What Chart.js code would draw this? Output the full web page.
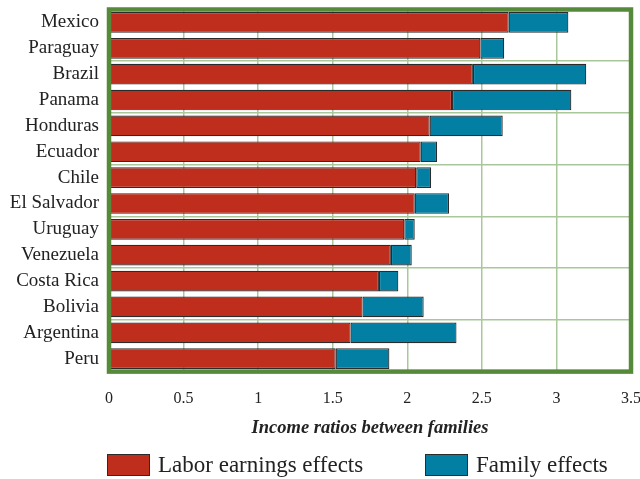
<!DOCTYPE html>
<html>
<head>
<meta charset="utf-8">
<script src="https://cdn.jsdelivr.net/npm/chart.js@4/dist/chart.umd.min.js"></script>
<style>
  html, body { margin: 0; padding: 0; background: #fff; }
  #wrap { position: relative; width: 640px; height: 479px; }
  #incomeChart { display: block; }
  #legend { position: absolute; left: 0; top: 454px; width: 640px; height: 24px;
            font-family: 'Liberation Serif', serif; font-size: 23px; color: #222; }
  .lg-item { position: absolute; top: 0; display: flex; align-items: center; height: 22px; }
  .lg-box { width: 41px; height: 20px; border: 1px solid #2b2b2b; margin-right: 8px; }
</style>
</head>
<body>
<div id="wrap">
  <canvas id="incomeChart" width="640" height="479"></canvas>
  <div id="legend"></div>
</div>
<script>
  const countries = ['Mexico', 'Paraguay', 'Brazil', 'Panama', 'Honduras', 'Ecuador', 'Chile',
    'El Salvador', 'Uruguay', 'Venezuela', 'Costa Rica', 'Bolivia', 'Argentina', 'Peru'];
  const laborEffects = [2.68, 2.49, 2.44, 2.30, 2.15, 2.09, 2.06, 2.05, 1.98, 1.89, 1.81, 1.70, 1.62, 1.52];
  const familyEffects = [0.40, 0.16, 0.76, 0.80, 0.49, 0.11, 0.10, 0.23, 0.07, 0.14, 0.13, 0.41, 0.71, 0.36];
  const xTicks = [0, 0.5, 1, 1.5, 2, 2.5, 3, 3.5];

  const FONT = 'Liberation Serif';
  const FRAME = '#548a3a';
  const GRID = '#a9c79a';

  // green box around the plot area
  const frame = {
    id: 'frame',
    afterDatasetsDraw(chart) {
      const { ctx, chartArea: a } = chart;
      ctx.save();
      ctx.strokeStyle = FRAME;
      ctx.lineWidth = 4.5;
      ctx.strokeRect(a.left, a.top, a.right - a.left, a.bottom - a.top);
      ctx.restore();
    }
  };

  // legend built from the datasets, placed under the axis title
  const htmlLegend = {
    id: 'htmlLegend',
    afterUpdate(chart) {
      const box = document.getElementById('legend');
      const lefts = [107, 425];
      box.innerHTML = chart.data.datasets.map((ds, i) => `
        <div class="lg-item" style="left:${lefts[i]}px">
          <span class="lg-box" style="background:${ds.backgroundColor}"></span>
          <span>${ds.label}</span>
        </div>`).join('');
    }
  };

  new Chart(document.getElementById('incomeChart'), {
    type: 'bar',
    data: {
      labels: countries,
      datasets: [{
        label: 'Labor earnings effects',
        data: laborEffects,
        backgroundColor: '#bf2d1c',
        borderColor: '#2b2b2b',
        borderWidth: 1.2,
        borderSkipped: false,
        barPercentage: 0.8,
        categoryPercentage: 1
      }, {
        label: 'Family effects',
        data: familyEffects,
        backgroundColor: '#027fa3',
        borderColor: '#2b2b2b',
        borderWidth: 1.2,
        borderSkipped: false,
        barPercentage: 0.8,
        categoryPercentage: 1
      }]
    },
    options: {
      indexAxis: 'y',
      responsive: false,
      animation: false,
      layout: { padding: { top: 9.5, right: 9, left: 0, bottom: 39.6 } },
      plugins: { legend: { display: false }, tooltip: { enabled: false } },
      scales: {
        x: {
          stacked: true,
          min: 0,
          max: 3.5,
          afterBuildTicks: (scale) => { scale.ticks = xTicks.map(v => ({ value: v })); },
          // let the end labels hang past the frame
          afterFit: (scale) => { scale.paddingLeft = 0; scale.paddingRight = 0; },
          ticks: {
            padding: 19,
            color: '#222',
            font: { family: FONT, size: 16, lineHeight: 1 },
            callback: (v) => String(v)
          },
          grid: { color: GRID, lineWidth: 1.5, drawTicks: false },
          border: { display: false },
          title: {
            display: true,
            text: 'Income ratios between families',
            color: '#222',
            font: { family: FONT, size: 18.5, style: 'italic', weight: 'bold' },
            padding: { top: -8.4, bottom: 0 }
          }
        },
        y: {
          stacked: true,
          afterFit: (scale) => {
            scale.width = 109;
            scale.paddingTop = 0;
            scale.paddingBottom = 0;
          },
          ticks: {
            autoSkip: false,
            padding: 10,
            color: '#222',
            font: { family: FONT, size: 19 }
          },
          grid: {
            drawTicks: false,
            lineWidth: 1.5,
            color: (c) => (c.index !== undefined && c.index % 2 === 0) ? GRID : 'rgba(0,0,0,0)'
          },
          border: { display: false }
        }
      }
    },
    plugins: [frame, htmlLegend]
  });
</script>
</body>
</html>
